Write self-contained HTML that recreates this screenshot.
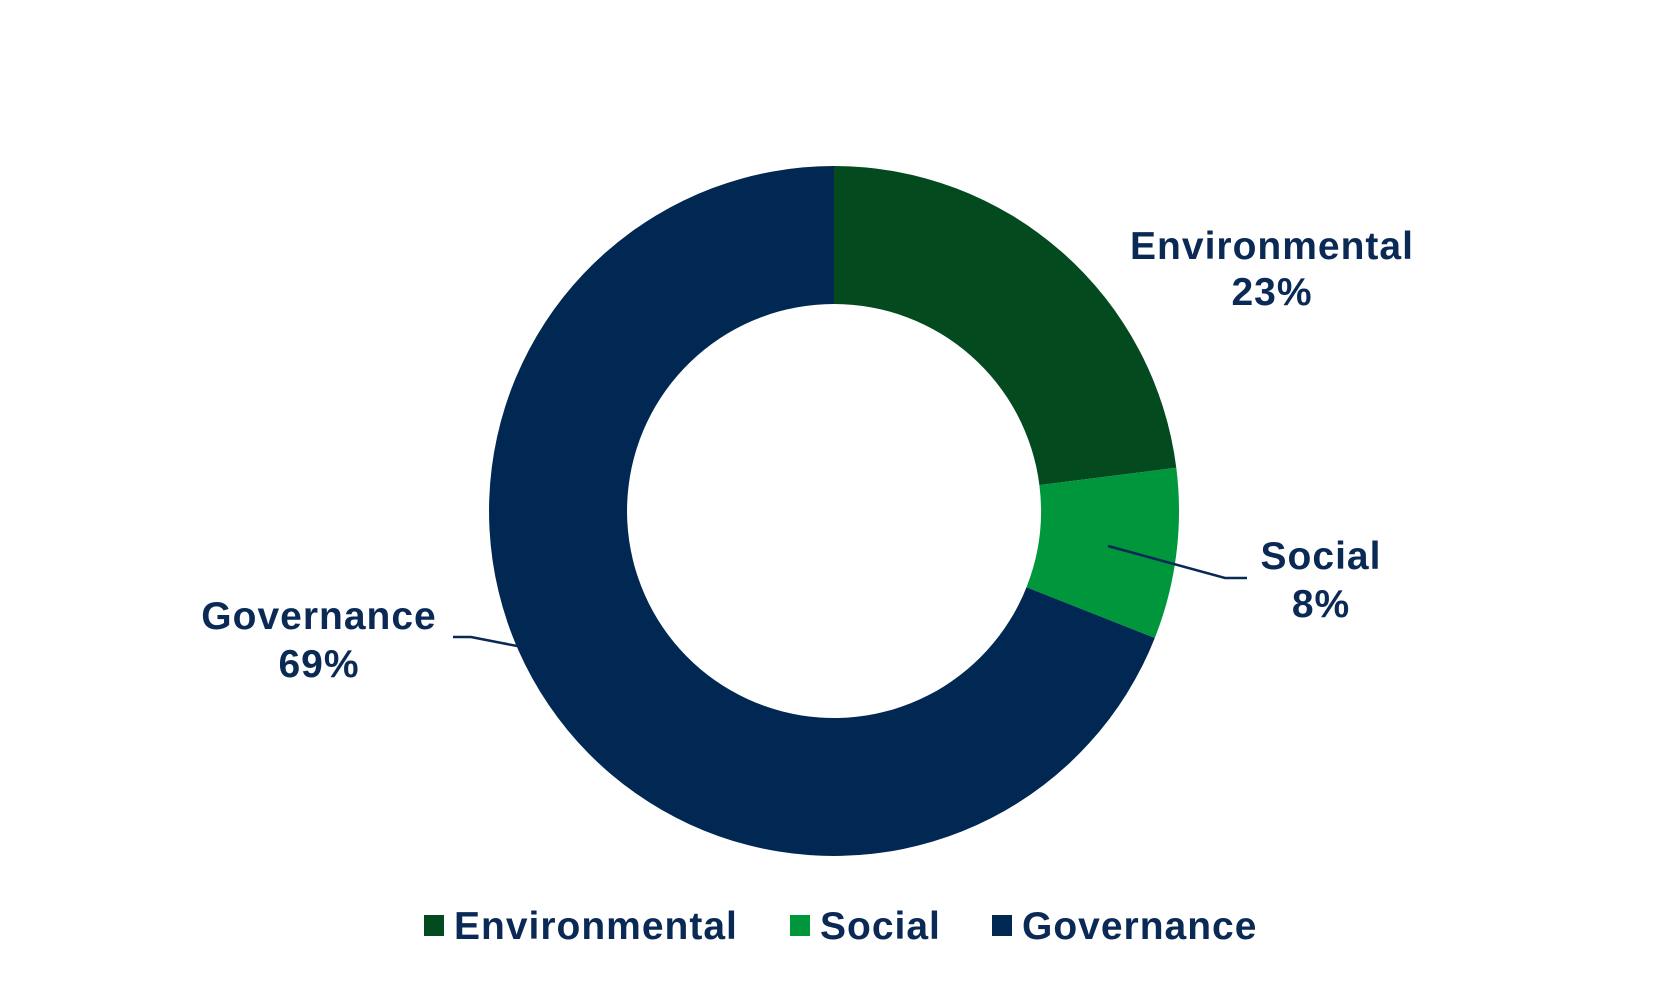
<!DOCTYPE html>
<html><head><style>
html,body{margin:0;padding:0;background:#fff;}
svg text{font-family:"Liberation Sans",Arial,sans-serif;font-weight:bold;fill:#0a2a55;letter-spacing:1px;}
</style></head><body>
<svg width="1668" height="990" viewBox="0 0 1668 990" xmlns="http://www.w3.org/2000/svg">
<path d="M834,166 A345,345 0 0 1 1176.3,467.8 L1039.4,485.1 A207,207 0 0 0 834,304 Z" fill="#034a1f"/>
<path d="M1176.3,467.8 A345,345 0 0 1 1154.8,638.0 L1026.5,587.2 A207,207 0 0 0 1039.4,485.1 Z" fill="#00963c"/>
<path d="M1154.8,638.0 A345,345 0 1 1 834,166 L834,304 A207,207 0 1 0 1026.5,587.2 Z" fill="#012753"/>
<polyline points="1108,546 1225,578 1247,578" fill="none" stroke="#0a2a55" stroke-width="2.5"/>
<polyline points="517,646 471,637 453,637" fill="none" stroke="#0a2a55" stroke-width="2.5"/>
<g font-size="39" text-anchor="middle">
<text x="1272" y="259">Environmental</text>
<text x="1272" y="305">23%</text>
<text x="1321" y="569">Social</text>
<text x="1321" y="617">8%</text>
<text x="319" y="629">Governance</text>
<text x="319" y="677">69%</text>
</g>
<rect x="424" y="915" width="20" height="21" fill="#034a1f"/>
<rect x="790" y="915" width="20" height="21" fill="#00963c"/>
<rect x="992" y="915" width="20" height="21" fill="#012753"/>
<g font-size="39">
<text x="454" y="939">Environmental</text>
<text x="820" y="939">Social</text>
<text x="1022" y="939">Governance</text>
</g>
</svg>
</body></html>
